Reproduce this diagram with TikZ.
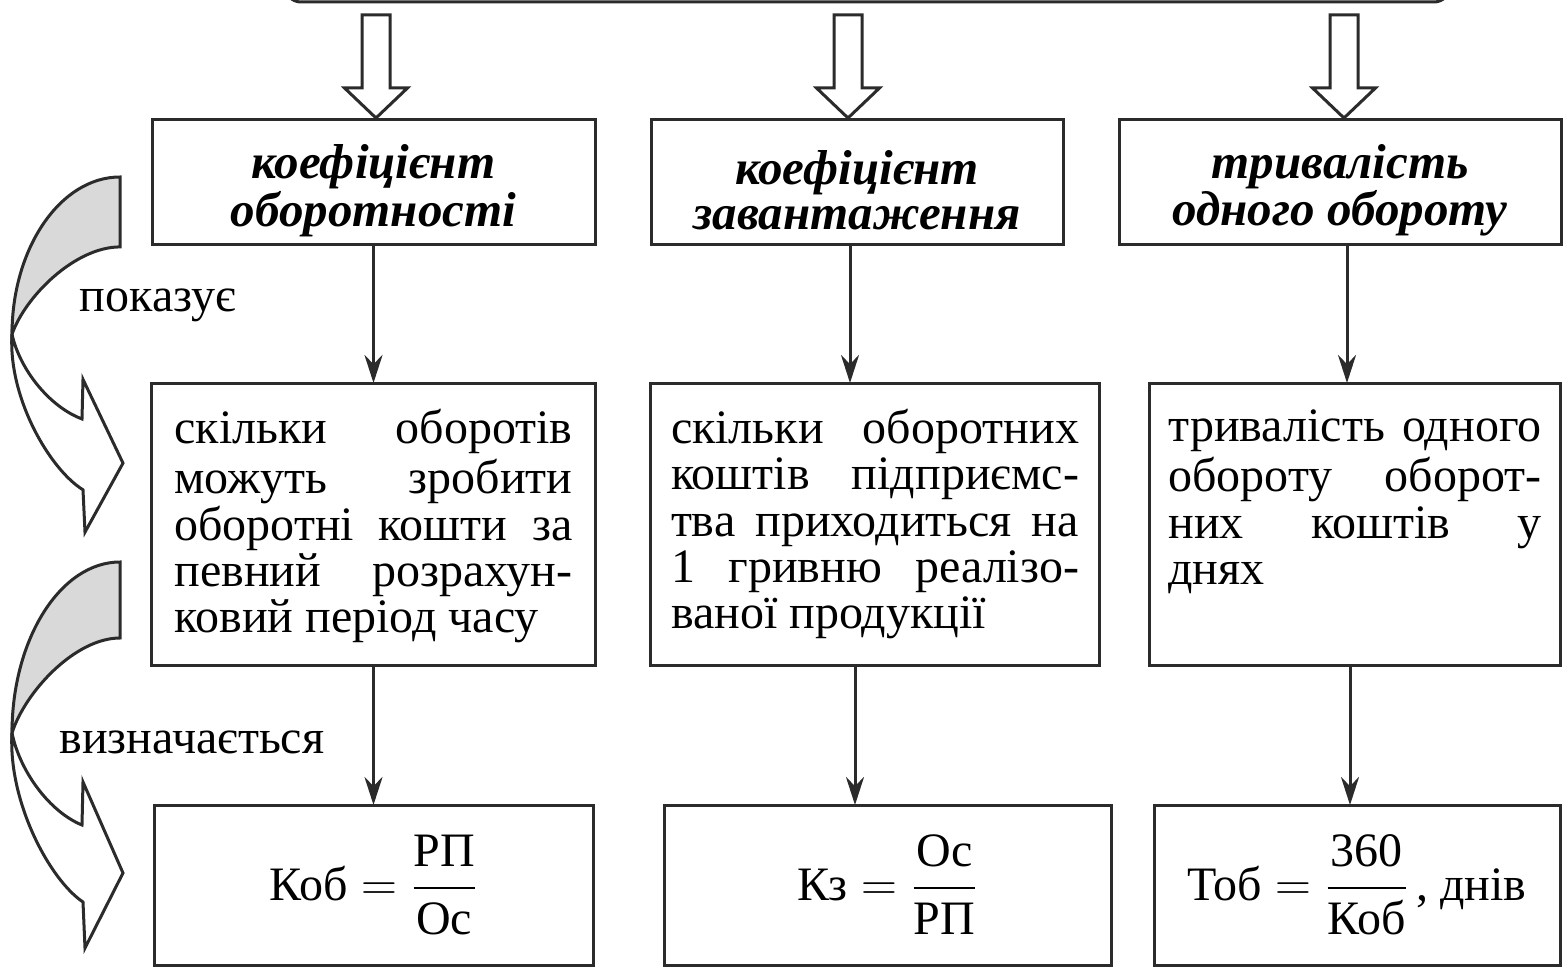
\documentclass[tikz,border=0pt]{standalone}
\usepackage{amsmath}
\usepackage{fontspec}
\setmainfont{Liberation Serif}
\usetikzlibrary{arrows.meta,positioning,calc}
\definecolor{ink}{HTML}{2B2B2B}
\definecolor{shade}{HTML}{D9D9D9}
\newcommand{\fs}{\fontsize{24pt}{23.2pt}\selectfont}
\newcommand{\hd}{\fontsize{24.5pt}{22.6pt}\selectfont\bfseries\itshape}
\newcommand{\lift}{\rule{0pt}{25pt}}
\newcommand{\jl}[1]{\makebox[\linewidth][s]{#1}\\}
\newcommand{\boxtext}[2]{\parbox[c][115pt][t]{#1}{\strut#2}}
\tikzset{
  fatarrow/.pic={
    \draw[fat] (-14,-103) -- (-14,-30) -- (-31.5,-30) -- (0,0) -- (31.5,-30)
      -- (14,-30) -- (14,-103) -- cycle;
  },
  turnarrow/.pic={
    \draw[turn, fill=white] (-108,171) .. controls (-100,210) and (-70,250) .. (-38,263)
      -- (-37,220) -- (3,311) -- (-35,386) -- (-37,340)
      .. controls (-70,318) and (-112,240) .. (-108,171) -- cycle;
    \draw[turn, fill=shade] (0,0) .. controls (-59.4,0) and (-108,77) .. (-108,171)
      .. controls (-95,130) and (-45,76) .. (0,76) -- cycle;
  },
}

\begin{document}
\begin{tikzpicture}[
  x=0.5pt, y=-0.5pt,
  font=\fs,
  box/.style={draw=ink, line width=1.5pt, inner sep=0pt, outer sep=0pt, fill=white},
  head/.style={box, minimum height=62.5pt, align=center, font=\hd},
  desc/.style={box, minimum height=141pt},
  frm/.style={box, minimum height=80pt},
  arr/.style={-{Stealth[length=14pt, width=9pt]}, line width=1.5pt, draw=ink},
  fat/.style={draw=ink, line width=1.5pt, fill=white},
  turn/.style={draw=ink, line width=1.5pt},
  lbl/.style={inner sep=0pt},
]
\useasboundingbox (0,0) rectangle (1564,968);
\clip (0,0) rectangle (1564,968);
% source box, cut off by the top edge
\node[box, rounded corners=8pt, minimum width=582.5pt, minimum height=60pt] (src) at (867.5,-58) {};
% indicators
\node[head, minimum width=221.5pt] (k1) at (373.5,182.5) {\lift коефіцієнт\\оборотності};
\node[head, minimum width=206pt, right=28pt of k1] (k2) {\lift коефіцієнт\\завантаження};
\node[head, minimum width=221pt, right=28pt of k2] (k3) {\lift тривалість\\одного обороту};
% meaning
\node[desc, minimum width=222pt, below=69pt of k1] (p1) {\boxtext{199pt}{\jl{скільки оборотів}\jl{можуть зробити}\jl{оборотні кошти за}\jl{певний розрахун-}ковий період часу}};
\node[desc, minimum width=224.5pt, right=27.5pt of p1] (p2) {\boxtext{204pt}{\jl{скільки оборотних}\jl{коштів підприємс-}\jl{тва приходиться на}\jl{1 гривню реалізо-}ваної продукції}};
\node[desc, minimum width=205.5pt, right=25pt of p2] (p3) {\boxtext{186.5pt}{\jl{тривалість одного}\jl{обороту оборот-}\jl{них коштів у}днях}};
% formulas
\node[frm, minimum width=219.5pt, below=70pt of p1] (f1) {\(\text{Коб} = \dfrac{\text{РП}}{\text{Ос}}\)};
\node[frm, minimum width=223.5pt, right=35.5pt of f1] (f2) {\(\text{Кз} = \dfrac{\text{Ос}}{\text{РП}}\)};
\node[frm, minimum width=203pt, right=21.5pt of f2] (f3) {\(\text{Тоб} = \dfrac{\text{360}}{\text{Коб}}\)\,, днів};
\node[lbl] (shows) at (158,305) {показує};
\node[lbl] (defined) at (192,742) {визначається};
\pic at ([xshift=1.25pt, yshift=1pt]k1.north) {fatarrow};
\pic at ([xshift=-4.5pt, yshift=1pt]k2.north) {fatarrow};
\pic at ([xshift=2pt, yshift=1pt]k3.north) {fatarrow};
\draw[arr] (k1.south) -- (k1.south |- p1.north);
\draw[arr] ([xshift=-3.5pt]k2.south) -- ([xshift=-3.5pt]k2.south |- p2.north);
\draw[arr] ([xshift=3.5pt]k3.south) -- ([xshift=3.5pt]k3.south |- p3.north);
\draw[arr] (p1.south) -- (p1.south |- f1.north);
\draw[arr] ([xshift=-10pt]p2.south) -- ([xshift=-10pt]p2.south |- f2.north);
\draw[arr] ([xshift=-2.5pt]p3.south) -- ([xshift=-2.5pt]p3.south |- f3.north);
\pic[yscale=0.92] at (120,177) {turnarrow};
\pic at (120,562) {turnarrow};
\end{tikzpicture}
\end{document}
